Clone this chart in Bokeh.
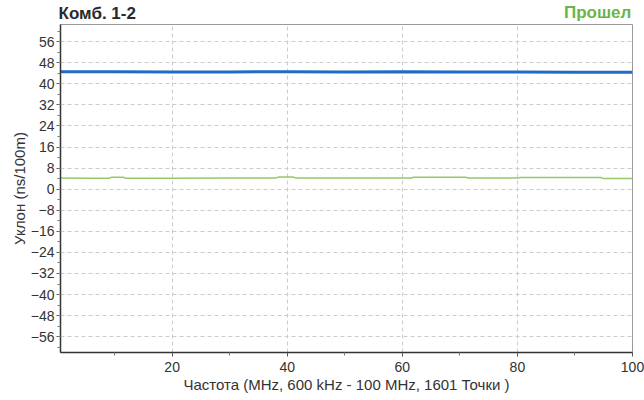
from bokeh.plotting import figure
from bokeh.models import FixedTicker, Range1d, Spacer
from bokeh.layouts import column, row
from bokeh.core.properties import value
from bokeh.embed import file_html
from bokeh.resources import INLINE

# Frequency sweep (MHz) and measured skew (ns/100m) for the two traces
blue_freq = [0.6, 10, 20, 30, 40, 50, 60, 70, 80, 90, 100]
blue_skew = [44.6, 44.6, 44.5, 44.5, 44.6, 44.5, 44.6, 44.5, 44.5, 44.4, 44.4]

green_freq = [0.6, 5, 9, 9.5, 11.5, 12, 20, 30, 38, 38.5, 41, 41.5, 50,
              61.5, 62, 71, 71.5, 80, 80.5, 94.5, 95, 100]
green_skew = [4.2, 4.1, 4.1, 4.5, 4.5, 4.1, 4.1, 4.2, 4.2, 4.6, 4.6, 4.2, 4.2,
              4.2, 4.5, 4.5, 4.2, 4.2, 4.4, 4.4, 4.0, 4.0]

x_ticks = [20, 40, 60, 80, 100]
x_minor = [10, 30, 50, 70, 90]
y_ticks = list(range(-56, 57, 8))
y_minor = list(range(-60, 61, 4))

FONT = "Liberation Sans"
LEFT_PAD = 7          # blank strip to the left of both panels
PANEL_W = 644 - LEFT_PAD
BORDER_L = 51
BORDER_R = 12

# Header strip with the pair name and the pass verdict; its frame lines up
# with the chart frame below so both share the same x mapping.
head = figure(width=PANEL_W, height=24, output_backend="svg",
              toolbar_location=None, title=None,
              x_range=Range1d(0.6, 100), y_range=Range1d(0, 24),
              x_axis_location=None, y_axis_location=None,
              min_border_left=BORDER_L, min_border_right=BORDER_R,
              min_border_top=0, min_border_bottom=0, outline_line_color=None)
head.grid.visible = False
head.text(x=[0.6], y=[21], text=["Комб. 1-2"], text_font=value(FONT),
          text_font_size="17px", text_font_style="bold", text_color="#2a2a2a",
          text_baseline="top")
head.text(x=[99.8], y=[22], text=["Прошел"], text_font=value(FONT),
          text_font_size="17px", text_font_style="bold", text_color="#6cb449",
          text_align="right", text_baseline="top")

p = figure(width=PANEL_W, height=376, output_backend="svg",
           toolbar_location=None,
           x_range=Range1d(0.6, 100), y_range=Range1d(-62, 62.5),
           min_border_left=BORDER_L, min_border_right=BORDER_R,
           min_border_top=0, min_border_bottom=48)
p.background_fill_color = "white"
p.border_fill_color = "white"
p.outline_line_color = "#9a9a9a"
p.outline_line_width = 1

p.line(blue_freq, blue_skew, line_color="#1f6cc4", line_width=3)
p.line(green_freq, green_skew, line_color="#94c96a", line_width=1.5)

p.xaxis.ticker = FixedTicker(ticks=x_ticks, minor_ticks=x_minor)
p.yaxis.ticker = FixedTicker(ticks=y_ticks, minor_ticks=y_minor)

for ax in (p.xaxis[0], p.yaxis[0]):
    ax.axis_line_color = "#333333"
    ax.axis_line_width = 1.5
    ax.major_tick_line_color = "#555555"
    ax.minor_tick_line_color = "#777777"
    ax.major_tick_out = 4
    ax.major_tick_in = 0
    ax.minor_tick_out = 3
    ax.minor_tick_in = 0
    ax.major_label_text_font = FONT
    ax.major_label_text_font_size = "14px"
    ax.major_label_text_color = "#333333"
    ax.axis_label_text_font = FONT
    ax.axis_label_text_font_size = "15px"
    ax.axis_label_text_font_style = "normal"
    ax.axis_label_text_color = "#333333"

p.xaxis.axis_label = "Частота (MHz, 600 kHz - 100 MHz, 1601 Точки )"
p.xaxis.axis_label_standoff = 1
p.xaxis.major_label_standoff = 5
p.yaxis.axis_label = "Уклон (ns/100m)"
p.yaxis.axis_label_standoff = 0
p.yaxis.major_label_standoff = 2

p.xgrid.ticker = FixedTicker(ticks=[20, 40, 60, 80])
p.xgrid.grid_line_color = "#cccccc"
p.xgrid.grid_line_dash = "4 3"
p.ygrid.grid_line_color = "#cccccc"
p.ygrid.grid_line_dash = "4 3"

layout = column(row(Spacer(width=LEFT_PAD, height=24), head, spacing=0),
                row(Spacer(width=LEFT_PAD, height=376), p, spacing=0),
                spacing=0)
open("out.html", "w").write(file_html(layout, INLINE))
